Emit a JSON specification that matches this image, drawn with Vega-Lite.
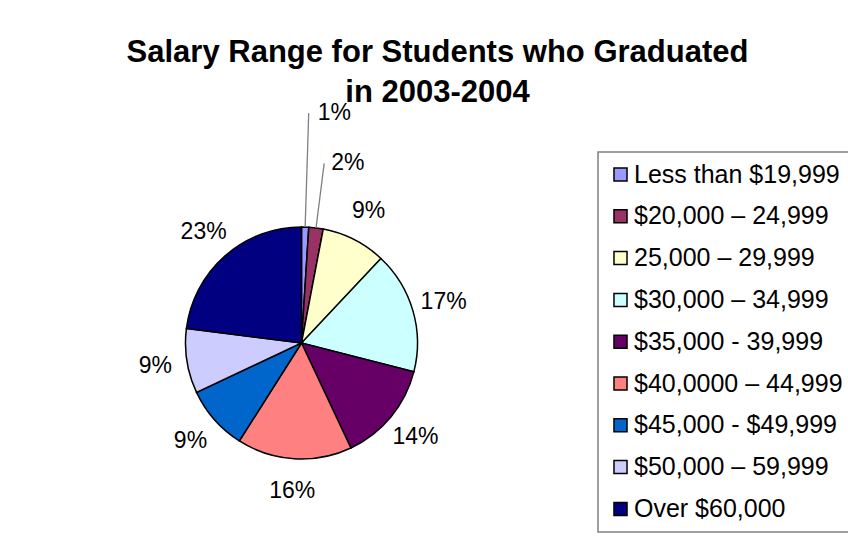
{
  "$schema": "https://vega.github.io/schema/vega-lite/v6.json",
  "autosize": {"type": "none"},
  "padding": {"left": 0, "top": 134, "right": 245, "bottom": 0},
  "width": 603,
  "height": 418,
  "background": "white",
  "title": {
    "text": ["Salary Range for Students who Graduated", "in 2003-2004"],
    "font": "Liberation Sans",
    "fontSize": 31,
    "fontWeight": "bold",
    "color": "black",
    "anchor": "middle",
    "frame": "group",
    "dx": 136,
    "lineHeight": 40,
    "baseline": "bottom",
    "offset": -38
  },
  "data": {
    "values": [
      {"range": "Less than $19,999", "pct": 1, "label": "1%", "order": 1},
      {"range": "$20,000 – 24,999", "pct": 2, "label": "2%", "order": 2},
      {"range": "25,000 – 29,999", "pct": 9, "label": "9%", "order": 3},
      {"range": "$30,000 – 34,999", "pct": 17, "label": "17%", "order": 4},
      {"range": "$35,000 - 39,999", "pct": 14, "label": "14%", "order": 5},
      {"range": "$40,0000 – 44,999", "pct": 16, "label": "16%", "order": 6},
      {"range": "$45,000 - $49,999", "pct": 9, "label": "9%", "order": 7},
      {"range": "$50,000 – 59,999", "pct": 9, "label": "9%", "order": 8},
      {"range": "Over $60,000", "pct": 23, "label": "23%", "order": 9}
    ]
  },
  "encoding": {
    "theta": {"field": "pct", "type": "quantitative", "stack": true},
    "order": {"field": "order", "type": "quantitative"}
  },
  "layer": [
    {
      "mark": {"type": "arc", "outerRadius": 116, "stroke": "black", "strokeWidth": 1.5},
      "encoding": {
        "color": {
          "field": "range",
          "type": "nominal",
          "scale": {
            "domain": ["Less than $19,999", "$20,000 – 24,999", "25,000 – 29,999", "$30,000 – 34,999", "$35,000 - 39,999", "$40,0000 – 44,999", "$45,000 - $49,999", "$50,000 – 59,999", "Over $60,000"],
            "range": ["#9999FF", "#993366", "#FFFFCC", "#CCFFFF", "#660066", "#FF8080", "#0066CC", "#CCCCFF", "#000080"]
          },
          "legend": {
            "orient": "none",
            "legendX": 598,
            "legendY": 18,
            "title": null,
            "symbolType": "square",
            "symbolSize": 170,
            "symbolStrokeColor": "black",
            "symbolStrokeWidth": 1.5,
            "symbolOpacity": 1,
            "labelFont": "Liberation Sans",
            "labelFontSize": 25,
            "labelColor": "black",
            "labelOffset": 1,
            "labelLimit": 400,
            "rowPadding": 15.8,
            "padding": 10,
            "strokeColor": "#808080",
            "fillColor": "white",
            "encode": {"legend": {"update": {"strokeWidth": {"value": 1.5}}}}
          }
        }
      }
    },
    {
      "mark": {"type": "arc", "radius": 230, "radius2": 116, "padAngle": 1, "filled": false, "stroke": "#808080", "strokeWidth": 1.3},
      "encoding": {
        "detail": {"field": "range"},
        "strokeOpacity": {"condition": {"test": "datum.pct === 1", "value": 1}, "value": 0}
      }
    },
    {
      "mark": {"type": "arc", "radius": 181, "radius2": 116, "padAngle": 1, "filled": false, "stroke": "#808080", "strokeWidth": 1.3},
      "encoding": {
        "detail": {"field": "range"},
        "strokeOpacity": {"condition": {"test": "datum.pct === 2", "value": 1}, "value": 0}
      }
    },
    {
      "mark": {"type": "text", "radius": 148, "font": "Liberation Sans", "fontSize": 23, "color": "black", "align": "center", "baseline": "middle"},
      "encoding": {
        "detail": {"field": "range"},
        "text": {"condition": {"test": "datum.pct > 2", "field": "label"}, "value": ""}
      }
    },
    {
      "mark": {"type": "text", "radius": 230, "dx": 9, "font": "Liberation Sans", "fontSize": 23, "color": "black", "align": "left", "baseline": "middle"},
      "encoding": {
        "detail": {"field": "range"},
        "text": {"condition": {"test": "datum.pct === 1", "field": "label"}, "value": ""}
      }
    },
    {
      "mark": {"type": "text", "radius": 181, "dx": 7, "font": "Liberation Sans", "fontSize": 23, "color": "black", "align": "left", "baseline": "middle"},
      "encoding": {
        "detail": {"field": "range"},
        "text": {"condition": {"test": "datum.pct === 2", "field": "label"}, "value": ""}
      }
    }
  ],
  "config": {"view": {"stroke": null}}
}
